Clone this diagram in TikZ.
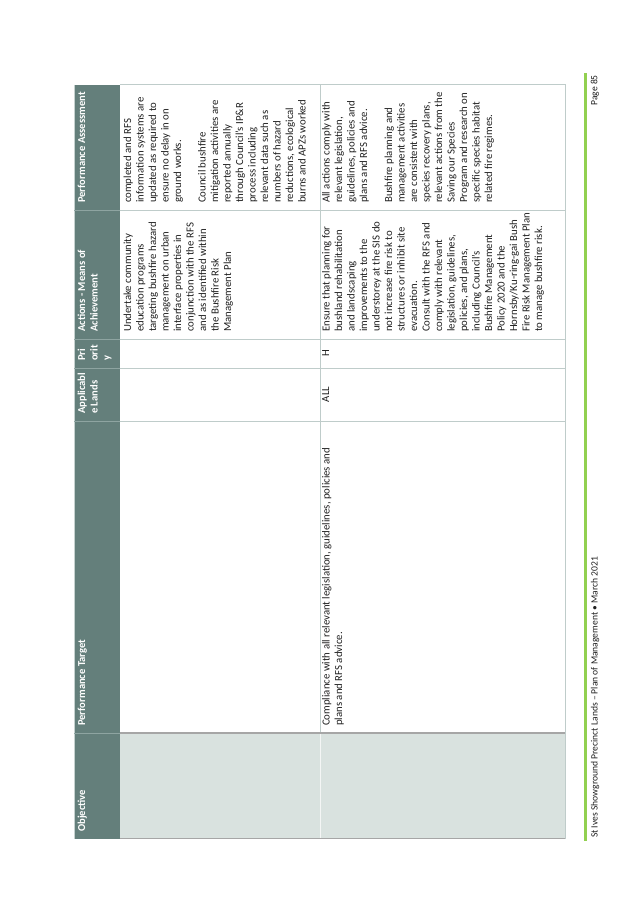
\documentclass[tikz,border=0pt]{standalone}
\usepackage{fontspec}
\setmainfont{Carlito}
\usetikzlibrary{positioning}

\definecolor{hdrfill}{HTML}{647F7B}
\definecolor{objfill}{HTML}{D9E2DF}
\definecolor{gridline}{HTML}{BFCCCA}
\definecolor{rulegrey}{HTML}{A6A6A6}
\definecolor{hdrline}{HTML}{8EA4A1}
\definecolor{bargreen}{HTML}{92D050}
\definecolor{bodytext}{HTML}{1F1F1F}

\begin{document}
\begin{tikzpicture}[x=1pt,y=-1pt,
		hdr/.style={rotate=90, anchor=north west, inner sep=0pt, align=left, text=white, font=\fontsize{10.6}{12.4}\selectfont\bfseries},
		cell/.style={rotate=90, anchor=north west, inner sep=0pt, align=left, text=bodytext, font=\fontsize{10.8}{12.5}\selectfont},
		midcell/.style={cell, anchor=north},
		foot/.style={rotate=90, inner sep=0pt, text=bodytext, font=\fontsize{9.6}{11}\selectfont}]
			\useasboundingbox (0,0) rectangle (638,900);

			% Header band and objective column
			\fill[hdrfill] (74,84.5) rectangle (120,838.5);
			\fill[objfill] (120,733) rectangle (565,838.5);
			\draw[hdrline!50!white, line width=0.8pt] (74,84.5) -- (74,838.5);
			\foreach \yy in {210,339,368,421,733}
				\draw[hdrline, line width=0.8pt] (74,\yy) -- (120,\yy);

			% Grid
			\draw[gridline, line width=0.9pt] (120,84.5) -- (565,84.5) -- (565,838.5);
			\foreach \yy in {210,339,368,421}
				\draw[gridline, line width=0.9pt] (120,\yy) -- (565,\yy);
			\draw[gridline, line width=0.9pt] (320,84.5) -- (320,733);
			\draw[white!70!objfill, line width=0.6pt] (320,733) -- (320,838.5);
			\draw[rulegrey, line width=1.4pt] (120,733) -- (565,733);
			\draw[rulegrey, line width=1.4pt] (120,838.5) -- (565,838.5);

			% Header labels
			\node[hdr] (hAssess) at (77.5,203) {Performance Assessment};
			\node[hdr] (hActions) at (77.5,332) {Actions - Means of\\Achievement};
			\node[hdr] (hPriority) at (77.5,361) {Pri\\orit\\y};
			\node[hdr] (hLands) at (77.5,414) {Applicabl\\e Lands};
			\node[hdr] (hTarget) at (77.5,726) {Performance Target};
			\node[hdr] (hObjective) at (77.5,832) {Objective};

			% Row 1
			\node[cell] (actOne) at (123.5,332) {Undertake community\\education programs\\targeting bushfire hazard\\management on urban\\interface properties in\\conjunction with the RFS\\and as identified within\\the Bushfire Risk\\Management Plan};
			\node[cell] (assOne) at (123.5,203) {completed and RFS\\information systems are\\updated as required to\\ensure no delay in on\\ground works.\\[12pt]Council bushfire\\mitigation activities are\\reported annually\\through Council’s IP\&R\\process including\\relevant data such as\\numbers of hazard\\reductions, ecological\\burns and APZs worked};

			% Row 2
			\node[cell] (tgtTwo) at (322,726) {Compliance with all relevant legislation, guidelines, policies and\\plans and RFS advice.};
			\node[midcell] (landTwo) at (322,394.5) {ALL};
			\node[midcell] (priTwo) at (322,353.5) {H};
			\node[cell] (actTwo) at (322,332) {Ensure that planning for\\bushland rehabilitation\\and landscaping\\improvements to the\\understorey at the SIS do\\not increase fire risk to\\structures or inhibit site\\evacuation.\\Consult with the RFS and\\comply with relevant\\legislation, guidelines,\\policies, and plans,\\including Council’s\\Bushfire Management\\Policy 2020 and the\\Hornsby/Ku-ring-gai Bush\\Fire Risk Management Plan\\to manage bushfire risk.};
			\node[cell] (assTwo) at (322,203) {All actions comply with\\relevant legislation,\\guidelines, policies and\\plans and RFS advice.\\[12.5pt]Bushfire planning and\\management activities\\are consistent with\\species recovery plans,\\relevant actions from the\\Saving our Species\\Program and research on\\specific species habitat\\related fire regimes.};

			% Footer
			\draw[bargreen, line width=2.7pt] (585.5,73) -- (585.5,841);
			\node[foot, anchor=west] (footTitle) at (595,838) {St Ives Showground Precinct Lands – Plan of Management • March 2021};
			\node[foot, anchor=east] (footPage) at (595,75) {Page 85};
		\end{tikzpicture}
\end{document}
